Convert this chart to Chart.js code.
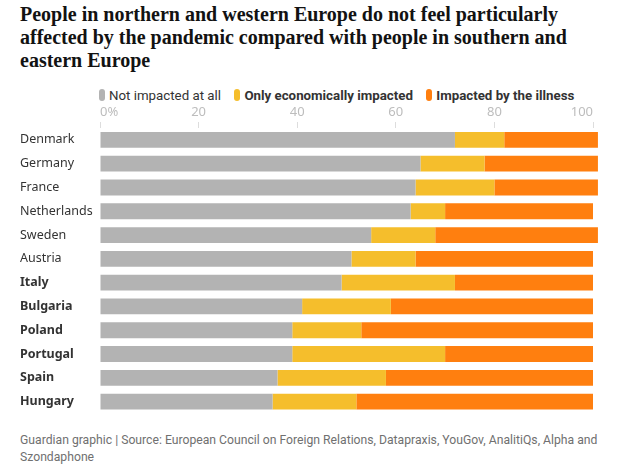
<!DOCTYPE html>
<html>
<head>
<meta charset="utf-8">
<script src="https://cdn.jsdelivr.net/npm/chart.js@4"></script>
<style>
  html, body { margin: 0; padding: 0; background: #fff; }
  body { width: 618px; height: 468px; position: relative; overflow: hidden; font-family: "Noto Sans", sans-serif; }
  h1 {
    position: absolute; left: 20px; top: 3px; width: 580px; margin: 0;
    font-family: "Liberation Serif", serif; font-weight: bold; font-size: 20px; line-height: 23px; color: #121212;
  }
  .legend { position: absolute; left: 99px; top: 88px; font-family: Roboto, sans-serif; font-size: 13.3px; color: #333; white-space: nowrap; }
  .legend span.item { margin-right: 10px; }
  .legend b { font-weight: bold; }
  .legend i { display: inline-block; width: 6px; height: 12px; border-radius: 3px; vertical-align: -1px; margin-right: 4px; }
  #wrap { position: absolute; left: 0; top: 102px; width: 618px; height: 322px; }
  .foot { position: absolute; left: 20px; top: 432px; font-family: Roboto, sans-serif; font-size: 12.2px; line-height: 17px; color: #707070; white-space: nowrap; }
</style>
</head>
<body>
<h1>People in northern and western Europe do not feel particularly affected by the pandemic compared with people in southern and eastern Europe</h1>
<div class="legend">
  <span class="item"><i style="background:#b3b3b3"></i>Not impacted at all</span>
  <span class="item"><i style="background:#f5be2c"></i><b>Only economically impacted</b></span>
  <span class="item"><i style="background:#ff7f0f"></i><b>Impacted by the illness</b></span>
</div>
<div id="wrap"><canvas id="myChart"></canvas></div>
<div class="foot">Guardian graphic | Source: European Council on Foreign Relations, Datapraxis, YouGov, AnalitiQs, Alpha and<br>Szondaphone</div>

<script>
// values, in %
const countries = ['Denmark', 'Germany', 'France', 'Netherlands', 'Sweden', 'Austria',
    'Italy', 'Bulgaria', 'Poland', 'Portugal', 'Spain', 'Hungary'];
const notImpacted = [72, 65, 64, 63, 55, 51, 49, 41, 39, 39, 36, 35];
const economically = [10, 13, 16, 7, 13, 13, 23, 18, 14, 31, 22, 17];
const illness = [19, 23, 21, 30, 33, 36, 28, 41, 47, 30, 42, 48];
const xTicks = [0, 20, 40, 60, 80, 100];

Chart.defaults.font.family = '"Noto Sans", sans-serif';

const data = {
    labels: countries,
    datasets: [
        { label: 'Not impacted at all', data: notImpacted, backgroundColor: '#b3b3b3' },
        { label: 'Only economically impacted', data: economically, backgroundColor: '#f5be2c' },
        { label: 'Impacted by the illness', data: illness, backgroundColor: '#ff7f0f' }
    ]
};

const config = {
    type: 'bar',
    data: data,
    options: {
        indexAxis: 'y',
        responsive: true,
        maintainAspectRatio: false,
        animation: false,
        datasets: {
            bar: { categoryPercentage: 1, barPercentage: 0.667, borderWidth: 0, clip: false }
        },
        layout: { padding: { left: 20, right: 25, top: 0, bottom: 8 } },
        plugins: { legend: { display: false }, tooltip: { enabled: false } },
        scales: {
            x: {
                position: 'top',
                stacked: true,
                min: 0,
                max: 100,
                z: 1,
                afterBuildTicks: function (scale) {
                    scale.ticks = xTicks.map(v => ({ value: v }));
                },
                afterFit: function (scale) { scale.height = 26; },
                ticks: {
                    align: 'inner',
                    color: '#bdbdbd',
                    padding: 2,
                    font: { size: 13 },
                    callback: function (v) { return v === 0 ? '0%' : v; }
                },
                grid: { color: 'rgba(255,255,255,0.7)', tickColor: '#dddddd', tickLength: 6 },
                border: { display: false }
            },
            y: {
                stacked: true,
                afterFit: function (scale) { scale.width = 80; },
                grid: { display: false },
                border: { display: false },
                ticks: {
                    crossAlign: 'far',
                    color: '#333333',
                    font: function (ctx) {
                        return { size: 12.5, weight: ctx.index >= 6 ? 'bold' : 'normal' };
                    }
                }
            }
        }
    }
};

const myChart = new Chart(document.getElementById('myChart'), config);
</script>
</body>
</html>
